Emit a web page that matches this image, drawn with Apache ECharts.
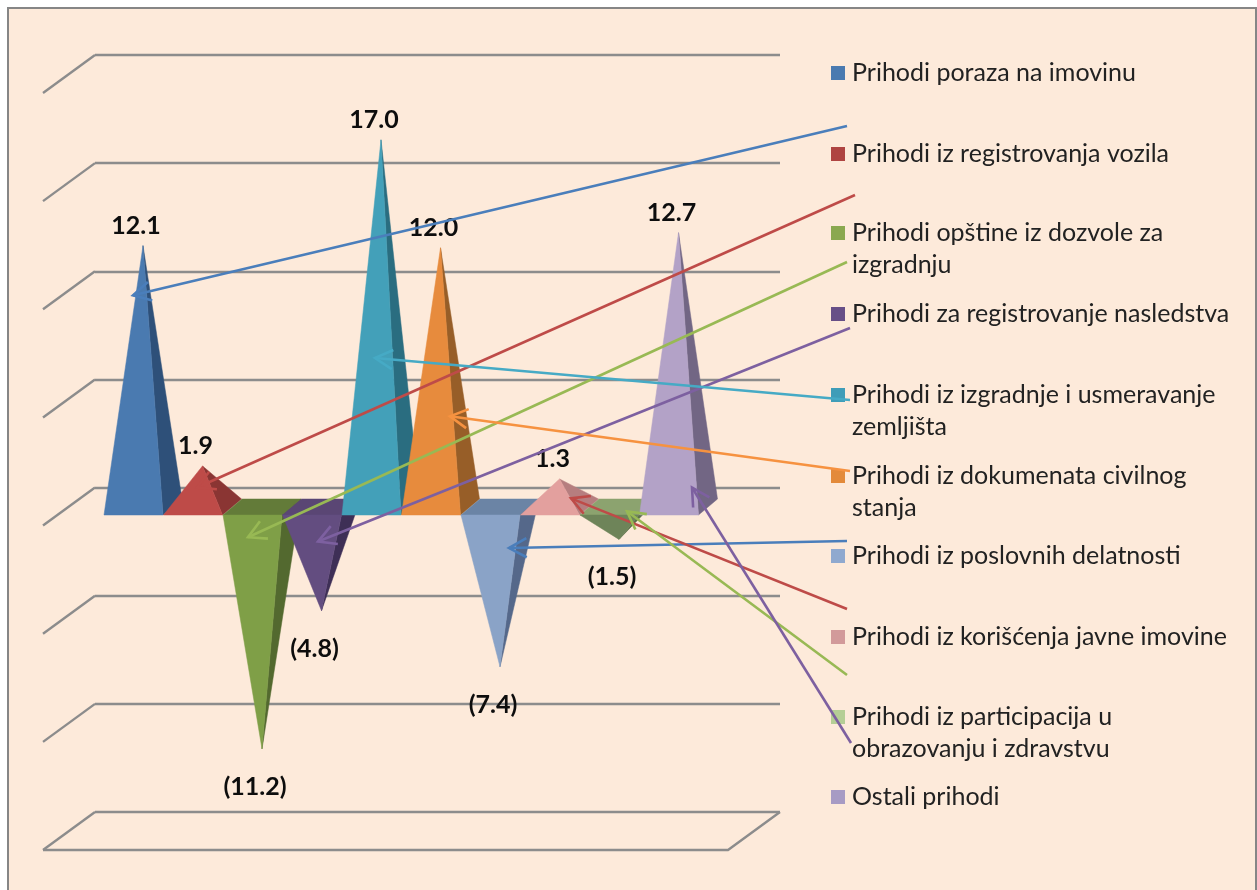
<!DOCTYPE html>
<html>
<head>
<meta charset="utf-8">
<style>html,body{margin:0;padding:0;background:#fff}#c{width:1257px;height:890px}</style>
<script src="https://cdn.jsdelivr.net/npm/echarts@6/dist/echarts.min.js"></script>
</head>
<body>
<div id="c"></div>
<script>
// ---- data ----
const categories = ['Prihodi poraza na imovinu','Prihodi iz registrovanja vozila','Prihodi opštine iz dozvole za izgradnju','Prihodi za registrovanje nasledstva','Prihodi iz izgradnje i usmeravanje zemljišta','Prihodi iz dokumenata civilnog stanja','Prihodi iz poslovnih delatnosti','Prihodi iz korišćenja javne imovine','Prihodi iz participacija u obrazovanju i zdravstvu','Ostali prihodi'];
const values = [12.1,1.9,-11.2,-4.8,17.0,12.0,-7.4,1.3,-1.5,12.7];
const axisTicks = [-15,-10,-5,0,5,10,15,20];
const leaderTipValues = [9.8,0.9,-1.4,-1.6,6.9,4.2,-1.9,0.4,-0.2,0.9];

// ---- styling / layout ----
const wrapped = {
  'Prihodi opštine iz dozvole za izgradnju':'Prihodi opštine iz dozvole za\nizgradnju',
  'Prihodi iz izgradnje i usmeravanje zemljišta':'Prihodi iz izgradnje i usmeravanje\nzemljišta',
  'Prihodi iz dokumenata civilnog stanja':'Prihodi iz dokumenata civilnog\nstanja',
  'Prihodi iz participacija u obrazovanju i zdravstvu':'Prihodi iz participacija u\nobrazovanju i zdravstvu'
};
const frontColors = ['#4A7AB0','#BE4B48','#7F9F47','#634D80','#43A0B9','#E78B3D','#8AA3C7','#E3A09E','#6E8459','#B3A2C7'];
const sideColors  = ['#2E5079','#8A3533','#53692F','#3E2F56','#2A6D80','#975E28','#55688A','#B67E7F','#5B7049','#726684'];
const topColors   = ['#3C6595','#A03F3D','#637B39','#5A4674','#37869C','#C27433','#6B84A5','#C08A89','#8CA36F','#94869F'];
const legendColors= ['#4A7AB0','#AF4441','#8AA84F','#674F87','#3F9DB8','#E38A3A','#8FA9CF','#D29A9A','#B5CE95','#A79BC4'];
const leaderColors= ['#4A7EBB','#BE4B48','#98B954','#7D60A0','#46AAC5','#F69240','#4A7EBB','#BE4B48','#98B954','#7D60A0'];
const legendCenters=[73,154,233,314,395,476,556,637,717,797];
const leaderTails = [[847,126],[855,195],[847,262],[850,328],[850,400],[850,471],[847,541],[847,609],[847,675],[851,743]];
const leaderTipDx = [-10,-5.5,-14,-3.5,-6,9.5,9,11.5,8,13.5];
const LH = 32, GRID='#8C8C8C';

function pyramid(i){
  return function(params, api){
    const c = api.coord([api.value(0), 0]);
    const a = api.coord([api.value(0), api.value(1)]);
    const fl=[c[0]-39,c[1]+8], fr=[c[0]+20,c[1]+8], br=[c[0]+39,c[1]-8], bl=[c[0]-20,c[1]-8];
    const poly=(pts,fill)=>({type:'polygon',shape:{points:pts},style:{fill:fill,stroke:fill,lineWidth:0.5}});
    const v=api.value(1);
    const kids=[];
    if(v<0) kids.push(poly([fl,fr,br,bl],topColors[i]));
    kids.push(poly([fr,br,a],sideColors[i]));
    kids.push(poly([fl,fr,a],frontColors[i]));
    kids.push({type:'text',z2:50,style:{
      text:v<0?'('+Math.abs(v).toFixed(1)+')':v.toFixed(1),
      x:a[0]-7,y:a[1]+(v<0?38:-20),align:'center',verticalAlign:'middle',
      font:'bold 25px Lato, "Open Sans", sans-serif',fill:'#0d0d0d'}});
    return {type:'group',children:kids};
  };
}
const series = categories.map((name,i)=>({
  name:name,type:'custom',xAxisIndex:1,yAxisIndex:1,z:5+i*0.01,clip:false,silent:true,
  itemStyle:{color:legendColors[i]},
  encode:{x:0,y:1},
  data:[[name,values[i]]],
  renderItem:pyramid(i)
}));
// walls and floor of the 3-D frame, anchored on the back-plane axis
series.push({
  type:'custom',xAxisIndex:0,yAxisIndex:0,z:2,clip:false,silent:true,
  data:axisTicks.map(t=>[t]),encode:{y:0},
  renderItem:function(p,api){
    const t=api.value(0), b=api.coord([0,t]);
    const ls={stroke:GRID,lineWidth:2.4,fill:null};
    const kids=[{type:'line',shape:{x1:b[0],y1:b[1],x2:b[0]-52,y2:b[1]+38},style:ls}];
    if(t===axisTicks[0]){
      const r=api.coord([1,t]);
      kids.push({type:'polyline',shape:{points:[[b[0]-52,b[1]+38],[r[0]-52,b[1]+38],[r[0],r[1]]]},style:ls});
    }
    return {type:'group',children:kids};
  }
});
// leader lines with open arrow heads
series.push({
  type:'custom',xAxisIndex:1,yAxisIndex:1,z:20,clip:false,silent:true,
  data:categories.map((n,i)=>[n,leaderTipValues[i]]),encode:{x:0,y:1},
  renderItem:function(p,api){
    const i=p.dataIndex, q=api.coord([api.value(0),api.value(1)]);
    const tip=[q[0]+leaderTipDx[i],q[1]], tail=leaderTails[i];
    const ang=Math.atan2(tail[1]-tip[1],tail[0]-tip[0]), L=20, A=0.5;
    const h1=[tip[0]+L*Math.cos(ang+A),tip[1]+L*Math.sin(ang+A)];
    const h2=[tip[0]+L*Math.cos(ang-A),tip[1]+L*Math.sin(ang-A)];
    const s={stroke:leaderColors[i],lineWidth:2.6,fill:null};
    return {type:'group',children:[
      {type:'line',shape:{x1:tail[0],y1:tail[1],x2:tip[0],y2:tip[1]},style:s},
      {type:'polyline',shape:{points:[h1,tip,h2]},style:s}
    ]};
  }
});

const legends = categories.map((name,i)=>{
  const two=!!wrapped[name];
  return {
    show:true,data:[name],left:831,top:legendCenters[i]-(two?1.5:0.5)*LH,padding:0,
    orient:'vertical',selectedMode:false,itemWidth:14,itemHeight:14,icon:'rect',
    // the blank first line keeps the marker level with the first line of a wrapped name
    formatter:n=>wrapped[n]?'\n'+wrapped[n]:n,
    textStyle:{fontFamily:'Lato, "Open Sans", sans-serif',fontSize:25,lineHeight:LH,color:'#222',
      padding:[0,0,0,2]}
  };
});

const chart = echarts.init(document.getElementById('c'),null,{renderer:'canvas'});
chart.setOption({
  animation:false,
  backgroundColor:'#fff',
  graphic:[{type:'rect',z:-10,shape:{x:8,y:8,width:1248,height:900},
    style:{fill:'#FDEADA',stroke:'#868686',lineWidth:2}}],
  grid:[
    {left:95,top:55,width:685,height:757},
    {left:113.25,top:75,width:595,height:756}
  ],
  xAxis:[
    {type:'value',gridIndex:0,min:0,max:1,show:false},
    {type:'category',gridIndex:1,data:categories,show:false}
  ],
  yAxis:[
    {type:'value',gridIndex:0,min:-15,max:20,interval:5,
     axisLine:{show:false},axisTick:{show:false},axisLabel:{show:false},
     splitLine:{show:true,lineStyle:{color:GRID,width:2.4}}},
    {type:'value',gridIndex:1,min:-15,max:20,interval:5,show:false,splitLine:{show:false}}
  ],
  legend:legends,
  series:series
});
</script>
</body>
</html>
